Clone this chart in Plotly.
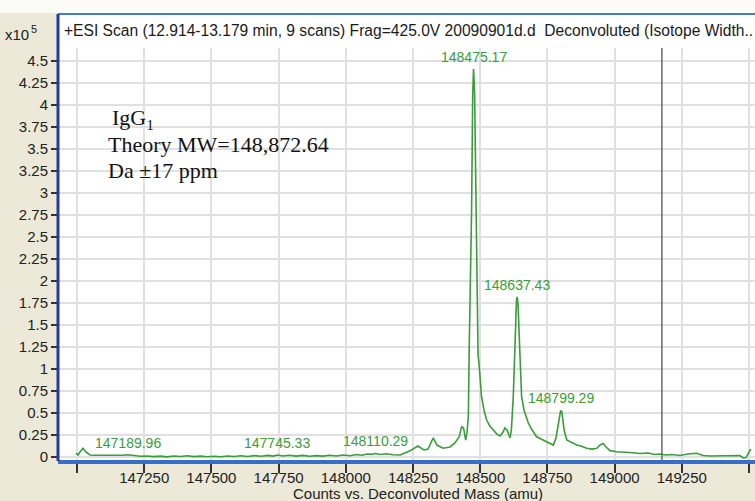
import plotly.graph_objects as go

# Deconvoluted ESI spectrum of an IgG1 (intensity in units of 10^5 counts)
mass = [
    146996, 147004, 147011, 147022, 147033, 147048, 147070, 147095, 147120, 147145,
    147170, 147189.96, 147210, 147235, 147260, 147285, 147310, 147335, 147360, 147385,
    147410, 147435, 147460, 147485, 147510, 147535, 147560, 147585, 147610, 147635,
    147660, 147685, 147710, 147730, 147745.33, 147765, 147790, 147815, 147840, 147865,
    147890, 147915, 147940, 147965, 147990, 148015, 148040, 148060, 148080, 148095,
    148110.29, 148130, 148150, 148175, 148202, 148239, 148268, 148291, 148306, 148325,
    148339, 148362, 148388, 148406, 148422, 148431, 148438, 148446, 148451, 148456,
    148459, 148464, 148468, 148472, 148475.17, 148479, 148482, 148484, 148489, 148492,
    148496, 148505, 148514, 148524, 148536, 148548, 148562, 148574, 148585, 148592,
    148600, 148611, 148616, 148623, 148628, 148631, 148635, 148637.43, 148641, 148645,
    148650, 148654, 148663, 148679, 148693, 148710, 148726, 148747, 148760, 148772,
    148782, 148791, 148797, 148799.29, 148804, 148808, 148812, 148822, 148838, 148859,
    148875, 148896, 148916, 148934, 148946, 148958, 148968, 148983, 149008, 149039,
    149068, 149094, 149124, 149150, 149169, 149191, 149213, 149243, 149273, 149305,
    149329, 149355, 149392, 149440, 149466, 149479, 149489, 149501, 149507,
]
intensity = [
    0.045, 0.023, 0.057, 0.100, 0.057, 0.023, 0.020, 0.018, 0.020, 0.017,
    0.020, 0.025, 0.015, 0.008, 0.012, 0.004, 0.010, 0.002, 0.012, 0.006,
    0.014, 0.004, 0.010, 0.002, 0.008, 0.003, 0.012, 0.005, 0.014, 0.006,
    0.016, 0.008, 0.018, 0.010, 0.022, 0.012, 0.020, 0.010, 0.018, 0.008,
    0.016, 0.010, 0.020, 0.012, 0.022, 0.015, 0.028, 0.020, 0.034, 0.030,
    0.040, 0.028, 0.036, 0.025, 0.023, 0.070, 0.125, 0.080, 0.090, 0.216,
    0.136, 0.100, 0.114, 0.160, 0.230, 0.344, 0.330, 0.193, 0.284, 0.458,
    1.216, 2.010, 2.810, 4.090, 4.410, 4.170, 3.490, 2.810, 1.636, 1.160,
    1.045, 0.685, 0.534, 0.420, 0.352, 0.307, 0.260, 0.239, 0.284, 0.330,
    0.307, 0.216, 0.307, 0.685, 1.100, 1.557, 1.780, 1.820, 1.727, 1.386,
    0.989, 0.685, 0.534, 0.386, 0.307, 0.230, 0.205, 0.174, 0.160, 0.136,
    0.216, 0.386, 0.510, 0.530, 0.510, 0.420, 0.307, 0.193, 0.170, 0.136,
    0.125, 0.100, 0.090, 0.100, 0.136, 0.153, 0.114, 0.072, 0.060, 0.057,
    0.049, 0.040, 0.045, 0.028, 0.034, 0.023, 0.028, 0.017, 0.034, 0.042,
    0.017, 0.011, 0.011, 0.011, 0.017, -0.011, -0.006, 0.060, 0.090,
]

# Labelled peaks
peak_mass = [147189.96, 147745.33, 148110.29, 148475.17, 148637.43, 148799.29]
peak_intensity = [0.025, 0.022, 0.040, 4.41, 1.82, 0.53]

# Axis ticks (labelled) and the two unlabelled end ticks
x_ticks = [147250, 147500, 147750, 148000, 148250, 148500, 148750, 149000, 149250]
x_tick_text = ["147250", "147500", "147750", "148000", "148250", "148500", "148750", "149000", "149250"]
x_end_ticks = [147000, 149500]
y_ticks = [0, 0.25, 0.5, 0.75, 1, 1.25, 1.5, 1.75, 2, 2.25, 2.5, 2.75, 3, 3.25, 3.5, 3.75, 4, 4.25, 4.5]
y_tick_text = ["0", "0.25", "0.5", "0.75", "1", "1.25", "1.5", "1.75", "2", "2.25", "2.5", "2.75",
               "3", "3.25", "3.5", "3.75", "4", "4.25", "4.5"]

cursor_mass = 149176

SANS = "Liberation Sans, Arial, sans-serif"
SERIF = "Liberation Serif, Times New Roman, serif"
GREEN = "#3c9b3c"
BEIGE = "#ece9d8"
GRID = "#e0e0e0"

W, H = 755, 501
ML, MR, MT, MB = 58, 0, 48, 41
PW, PH = W - ML - MR, H - MT - MB


def px(xp):
    return (xp - ML) / PW


def py(yp):
    return (H - MB - yp) / PH


fig = go.Figure()
fig.add_trace(go.Scatter(
    x=mass, y=intensity, mode="lines",
    line=dict(color=GREEN, width=1.6),
    hoverinfo="skip", showlegend=False,
))

annotations = []
for m, v in zip(peak_mass, peak_intensity):
    annotations.append(dict(
        x=m, y=v, xref="x", yref="y", text=f"{m:.2f}", showarrow=False,
        xanchor="center", yanchor="bottom", yshift=2,
        font=dict(family=SANS, size=14, color=GREEN),
    ))

# Header text inside the frame
annotations.append(dict(
    x=px(62), y=py(30), xref="paper", yref="paper", xanchor="left", yanchor="middle",
    text="+ESI Scan (12.914-13.179 min, 9 scans) Frag=425.0V 20090901d.d  Deconvoluted (Isotope Width..",
    showarrow=False, font=dict(family=SANS, size=15.6, color="#1a1a1a"),
))
# Exponent label
annotations.append(dict(
    x=px(3), y=py(34), xref="paper", yref="paper", xanchor="left", yanchor="middle",
    text="x10", showarrow=False, font=dict(family=SANS, size=15, color="#222"),
))
annotations.append(dict(
    x=px(29), y=py(29), xref="paper", yref="paper", xanchor="left", yanchor="middle",
    text="5", showarrow=False, font=dict(family=SANS, size=11, color="#222"),
))
# Sample information
info_lines = [("IgG<sub>1</sub>", 110, 119), ("Theory MW=148,872.64", 106, 144), ("Da ±17 ppm", 106, 170)]
for txt, xl, yc in info_lines:
    annotations.append(dict(
        x=px(xl), y=py(yc), xref="paper", yref="paper", xanchor="left", yanchor="middle",
        text=txt, showarrow=False, font=dict(family=SERIF, size=22, color="#111"),
    ))
# X axis title
annotations.append(dict(
    x=px(418), y=py(493), xref="paper", yref="paper", xanchor="center", yanchor="middle",
    text="Counts vs. Deconvoluted Mass (amu)", showarrow=False,
    font=dict(family=SANS, size=15, color="#222"),
))

shapes = [
    # light strip along the top of the window
    dict(type="rect", xref="paper", yref="paper", x0=px(0), x1=1.0, y0=py(13), y1=py(0),
         fillcolor="#fbfbf7", line=dict(width=0), layer="below"),
    # white header band above the plotting area
    dict(type="rect", xref="paper", yref="paper", x0=0, x1=1.0, y0=1.0, y1=py(14),
         fillcolor="white", line=dict(width=0), layer="below"),
    # frame top border
    dict(type="line", xref="paper", yref="paper", x0=0, x1=1.0, y0=py(14), y1=py(14),
         line=dict(color="#4a78d0", width=2)),
    # frame left border / y axis
    dict(type="line", xref="paper", yref="paper", x0=0, x1=0, y0=py(461), y1=py(14),
         line=dict(color="#1f3c9e", width=3)),
    # cursor line
    dict(type="line", xref="x", yref="paper", x0=cursor_mass, x1=cursor_mass, y0=0, y1=1,
         line=dict(color="#6a6a6a", width=1.5)),
]

x0 = 147000 - (77 - ML) / 0.2688
x1 = 147000 + (W - MR - 77) / 0.2688
y_top = (457 - MT) / 88
y_bot = y_top - PH / 88

fig.update_layout(
    width=W, height=H,
    margin=dict(l=ML, r=MR, t=MT, b=MB, pad=0),
    paper_bgcolor=BEIGE, plot_bgcolor="white",
    showlegend=False, hovermode=False,
    annotations=annotations, shapes=shapes,
    xaxis=dict(
        range=[x0, x1], tickvals=x_ticks, ticktext=x_tick_text,
        showgrid=True, gridcolor=GRID, gridwidth=1.5,
        showline=True, linecolor="#3a6cc9", linewidth=4,
        ticks="outside", ticklen=9, tickwidth=1.5, tickcolor="#333",
        ticklabelstandoff=-8,
        tickfont=dict(family=SANS, size=15, color="#222"),
        minor=dict(tickvals=x_end_ticks, ticks="outside", ticklen=9, tickwidth=1.5,
                   tickcolor="#333", showgrid=True, gridcolor=GRID, gridwidth=1.5),
        zeroline=False, fixedrange=True,
    ),
    yaxis=dict(
        range=[y_bot, y_top], tickvals=y_ticks, ticktext=y_tick_text,
        showgrid=True, gridcolor=GRID, gridwidth=1.5,
        showline=False,
        ticks="outside", ticklen=6, tickwidth=1.5, tickcolor="#333",
        tickfont=dict(family=SANS, size=15, color="#222"),
        zeroline=False, fixedrange=True,
    ),
)

fig.write_html("out.html", config={"displayModeBar": False})
